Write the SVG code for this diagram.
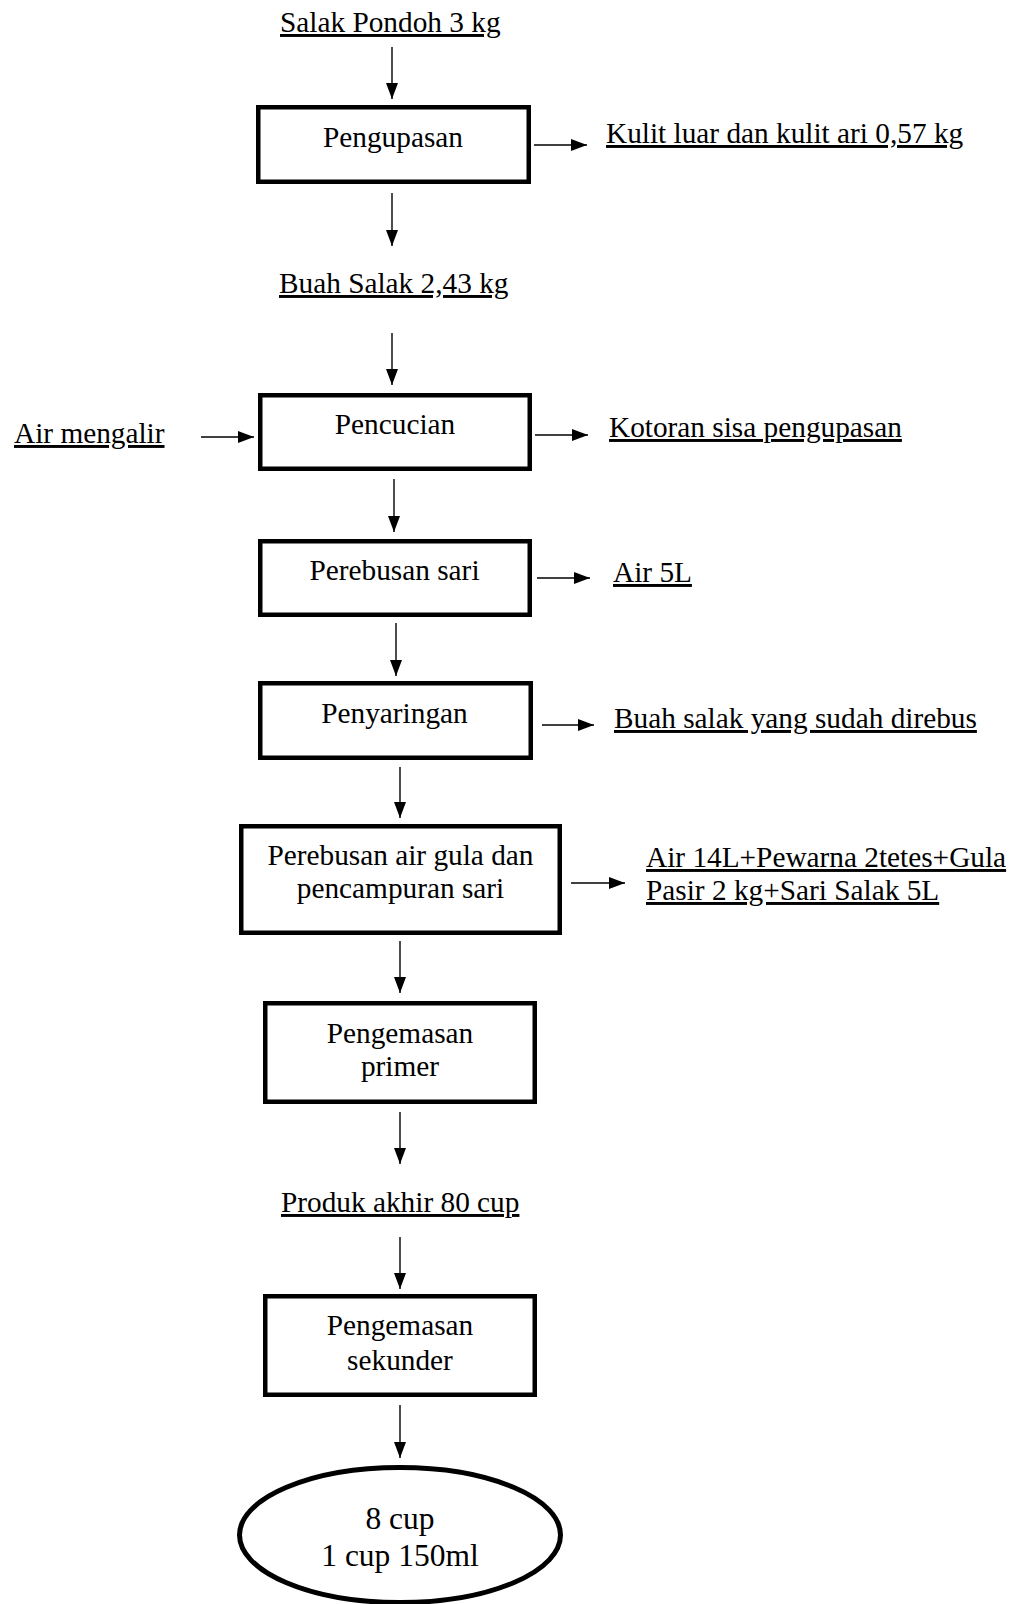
<svg xmlns="http://www.w3.org/2000/svg" width="1025" height="1604" viewBox="0 0 1025 1604">
<style>
text{font-family:"Liberation Serif","Times New Roman",serif;font-size:29.3px;fill:#000}
.u{text-decoration:underline;text-decoration-skip-ink:none;text-underline-offset:4px;text-decoration-thickness:1.6px}
.c{text-anchor:middle}
.box{fill:#fff;stroke:#000;stroke-width:4.5}
.ar{stroke:#000;stroke-width:1.4;fill:none;marker-end:url(#ah)}
</style>
<defs>
<marker id="ah" markerUnits="userSpaceOnUse" markerWidth="16" markerHeight="12" refX="16" refY="6" orient="auto">
<path d="M0,0 L16,6 L0,12 z" fill="#000"/>
</marker>
</defs>
<rect width="1025" height="1604" fill="#fff"/>
<g id="connectors">
<line class="ar" x1="392" y1="47" x2="392" y2="99"/>
<line class="ar" x1="392" y1="193" x2="392" y2="246"/>
<line class="ar" x1="392" y1="333" x2="392" y2="385"/>
<line class="ar" x1="394" y1="479" x2="394" y2="532"/>
<line class="ar" x1="396" y1="623" x2="396" y2="676"/>
<line class="ar" x1="400" y1="767" x2="400" y2="818"/>
<line class="ar" x1="400" y1="941" x2="400" y2="993"/>
<line class="ar" x1="400" y1="1112" x2="400" y2="1164"/>
<line class="ar" x1="400" y1="1237" x2="400" y2="1289"/>
<line class="ar" x1="400" y1="1405" x2="400" y2="1458"/>
<line class="ar" x1="534" y1="145" x2="587" y2="145"/>
<line class="ar" x1="201" y1="437" x2="254" y2="437"/>
<line class="ar" x1="535" y1="435" x2="588" y2="435"/>
<line class="ar" x1="537" y1="578" x2="590" y2="578"/>
<line class="ar" x1="542" y1="725" x2="594" y2="725"/>
<line class="ar" x1="571" y1="883" x2="625" y2="883"/>
</g>
<g id="salak-pondoh"><text class="u" x="280" y="32">Salak Pondoh 3 kg</text></g>
<g id="pengupasan">
<rect class="box" x="258.25" y="107.25" width="270.5" height="74.5"/>
<text class="c" x="393" y="147">Pengupasan</text>
</g>
<g id="kulit"><text class="u" x="606" y="143">Kulit luar dan kulit ari 0,57 kg</text></g>
<g id="buah-salak"><text class="u" x="279" y="293">Buah Salak 2,43 kg</text></g>
<g id="air-mengalir"><text class="u" x="14" y="443">Air mengalir</text></g>
<g id="pencucian">
<rect class="box" x="260.25" y="395.25" width="269.5" height="73.5"/>
<text class="c" x="395" y="434">Pencucian</text>
</g>
<g id="kotoran"><text class="u" x="609" y="437">Kotoran sisa pengupasan</text></g>
<g id="perebusan-sari">
<rect class="box" x="260.25" y="541.25" width="269.5" height="73.5"/>
<text class="c" x="394.5" y="580">Perebusan sari</text>
</g>
<g id="air-5l"><text class="u" x="613" y="582">Air 5L</text></g>
<g id="penyaringan">
<rect class="box" x="260.25" y="683.25" width="270.5" height="74.5"/>
<text class="c" x="394.5" y="723">Penyaringan</text>
</g>
<g id="buah-direbus"><text class="u" x="614" y="728">Buah salak yang sudah direbus</text></g>
<g id="perebusan-gula">
<rect class="box" x="241.25" y="826.25" width="318.5" height="106.5"/>
<text class="c" x="400.5" y="865">Perebusan air gula dan</text>
<text class="c" x="400.5" y="898">pencampuran sari</text>
</g>
<g id="bahan">
<text class="u" x="646" y="867">Air 14L+Pewarna 2tetes+Gula</text>
<text class="u" x="646" y="900">Pasir 2 kg+Sari Salak 5L</text>
</g>
<g id="pengemasan-primer">
<rect class="box" x="265.25" y="1003.25" width="269.5" height="98.5"/>
<text class="c" x="400" y="1043">Pengemasan</text>
<text class="c" x="400" y="1076">primer</text>
</g>
<g id="produk-akhir"><text class="u" x="281" y="1212">Produk akhir 80 cup</text></g>
<g id="pengemasan-sekunder">
<rect class="box" x="265.25" y="1296.25" width="269.5" height="98.5"/>
<text class="c" x="400" y="1335">Pengemasan</text>
<text class="c" x="400" y="1370">sekunder</text>
</g>
<g id="hasil">
<ellipse cx="400" cy="1535" rx="160.5" ry="67.5" fill="#fff" stroke="#000" stroke-width="5"/>
<text class="c" x="400" y="1529" style="font-size:31.5px">8 cup</text>
<text class="c" x="400" y="1566" style="font-size:31.5px">1 cup 150ml</text>
</g>
</svg>
